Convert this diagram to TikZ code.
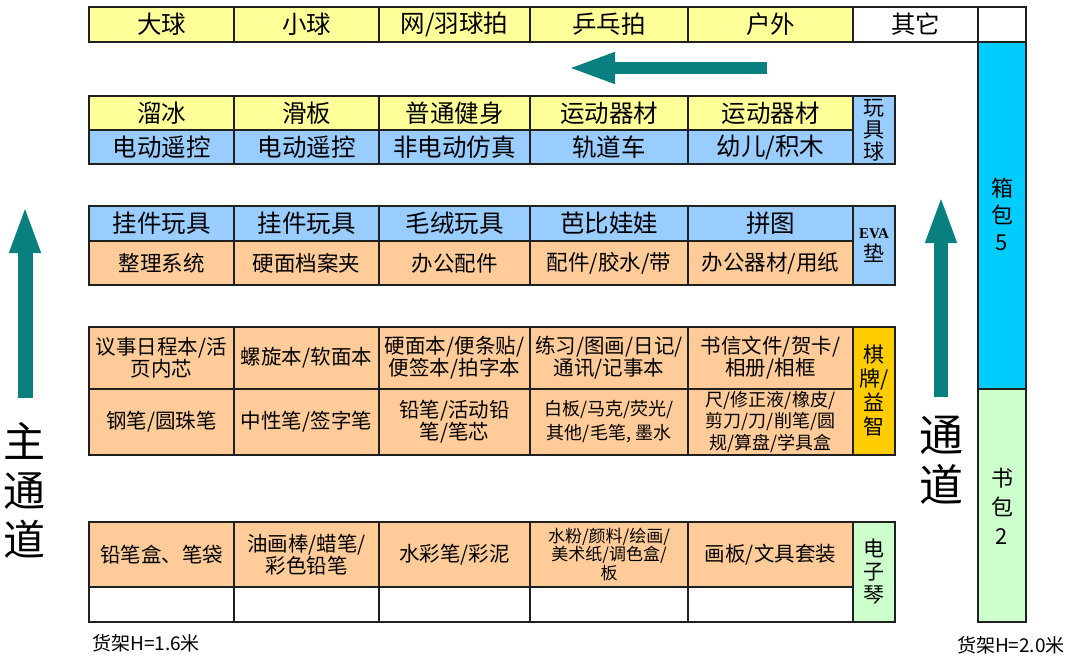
\documentclass[tikz,border=0pt]{standalone}
\usepackage{fontspec}
\setmainfont{Noto Sans CJK SC}
\newfontfamily\evafont{Liberation Serif}
\usetikzlibrary{arrows.meta}
\definecolor{ylw}{HTML}{FFFF99}
\definecolor{blu}{HTML}{99CCFF}
\definecolor{org}{HTML}{FFCC99}
\definecolor{gld}{HTML}{FFCC00}
\definecolor{cyn}{HTML}{00CCFF}
\definecolor{grn}{HTML}{CCFFCC}
\definecolor{flowc}{HTML}{0A7F7F}
\definecolor{edge}{HTML}{202020}

\begin{document}
\begin{tikzpicture}[x=1pt,y=-1pt,
  cellbox/.style={draw=edge,line width=1.6},
  lbla/.style={inner sep=0,font=\fontsize{24.5}{26}\selectfont},
  lblb/.style={inner sep=0,font=\fontsize{21.5}{23}\selectfont},
  lblc/.style={inner sep=0,align=center,font=\fontsize{20.5}{22}\selectfont},
  lbld/.style={inner sep=0,align=center,font=\fontsize{18}{21.5}\selectfont},
  upr/.style={inner sep=0,align=center,font=\fontsize{21}{23}\selectfont},
  walk/.style={flowc,-{Triangle[length=48pt,width=28pt]}},
  aisle/.style={inner sep=0,align=center,font=\fontsize{42}{49}\selectfont},
  note/.style={inner sep=0,font=\fontsize{19}{20}\selectfont}]
\useasboundingbox (0,0) rectangle (1070,661);
% top shelf
\filldraw[cellbox,fill=ylw] (89,7) rectangle (234,42);
\node[lbla] (daqiu) at (161.5,24.5) {大球};
\filldraw[cellbox,fill=ylw] (234,7) rectangle (379,42);
\node[lbla] (xiaoqiu) at (306.5,24.5) {小球};
\filldraw[cellbox,fill=ylw] (379,7) rectangle (530,42);
\node[lbla] (wangpai) at (454.5,24.5) {网/羽球拍};
\filldraw[cellbox,fill=ylw] (530,7) rectangle (688,42);
\node[lbla] (pingpang) at (609,24.5) {乒乓拍};
\filldraw[cellbox,fill=ylw] (688,7) rectangle (853,42);
\node[lbla] (huwai) at (770.5,24.5) {户外};
\filldraw[cellbox,fill=white] (853,7) rectangle (978,42);
\node[lbla] (qita) at (915.5,24.5) {其它};
\filldraw[cellbox,fill=white] (978,7) rectangle (1026,42);
% right shelf
\filldraw[cellbox,fill=cyn] (978,42) rectangle (1026,389);
\node[upr,font=\fontsize{22}{27}\selectfont] (xiangbao) at (1002,214) {箱\\包\\5};
\filldraw[cellbox,fill=grn] (978,389) rectangle (1026,622);
\node[upr,font=\fontsize{22}{29}\selectfont] (shubao) at (1002,506) {书\\包\\2};
% shelf 2
\filldraw[cellbox,fill=ylw] (89,96) rectangle (234,130);
\node[lbla] (liubing) at (161.5,113) {溜冰};
\filldraw[cellbox,fill=ylw] (234,96) rectangle (379,130);
\node[lbla] (huaban) at (306.5,113) {滑板};
\filldraw[cellbox,fill=ylw] (379,96) rectangle (530,130);
\node[lbla] (jianshen) at (454.5,113) {普通健身};
\filldraw[cellbox,fill=ylw] (530,96) rectangle (688,130);
\node[lbla] (qicai1) at (609,113) {运动器材};
\filldraw[cellbox,fill=ylw] (688,96) rectangle (853,130);
\node[lbla] (qicai2) at (770.5,113) {运动器材};
\filldraw[cellbox,fill=blu] (89,130) rectangle (234,164);
\node[lbla] (yaokong1) at (161.5,147) {电动遥控};
\filldraw[cellbox,fill=blu] (234,130) rectangle (379,164);
\node[lbla] (yaokong2) at (306.5,147) {电动遥控};
\filldraw[cellbox,fill=blu] (379,130) rectangle (530,164);
\node[lbla] (fangzhen) at (454.5,147) {非电动仿真};
\filldraw[cellbox,fill=blu] (530,130) rectangle (688,164);
\node[lbla] (guidao) at (609,147) {轨道车};
\filldraw[cellbox,fill=blu] (688,130) rectangle (853,164);
\node[lbla] (jimu) at (770.5,147) {幼儿/积木};
\filldraw[cellbox,fill=blu] (853,96) rectangle (895,164);
\node[upr,font=\fontsize{21}{22}\selectfont] (wanjuqiu) at (874,130) {玩\\具\\球};
% shelf 3
\filldraw[cellbox,fill=blu] (89,206) rectangle (234,241);
\node[lbla] (guajian1) at (161.5,223.5) {挂件玩具};
\filldraw[cellbox,fill=blu] (234,206) rectangle (379,241);
\node[lbla] (guajian2) at (306.5,223.5) {挂件玩具};
\filldraw[cellbox,fill=blu] (379,206) rectangle (530,241);
\node[lbla] (maorong) at (454.5,223.5) {毛绒玩具};
\filldraw[cellbox,fill=blu] (530,206) rectangle (688,241);
\node[lbla] (babi) at (609,223.5) {芭比娃娃};
\filldraw[cellbox,fill=blu] (688,206) rectangle (853,241);
\node[lbla] (pintu) at (770.5,223.5) {拼图};
\filldraw[cellbox,fill=org] (89,241) rectangle (234,285);
\node[lblb] (zhengli) at (161.5,263) {整理系统};
\filldraw[cellbox,fill=org] (234,241) rectangle (379,285);
\node[lblb] (dangan) at (306.5,263) {硬面档案夹};
\filldraw[cellbox,fill=org] (379,241) rectangle (530,285);
\node[lblb] (bangong) at (454.5,263) {办公配件};
\filldraw[cellbox,fill=org] (530,241) rectangle (688,285);
\node[lblb] (jiaoshui) at (609,263) {配件/胶水/带};
\filldraw[cellbox,fill=org] (688,241) rectangle (853,285);
\node[lblb] (yongzhi) at (770.5,263) {办公器材/用纸};
\filldraw[cellbox,fill=blu] (853,206) rectangle (895,285);
\node[upr] (eva) at (874,245.5) {{\evafont\bfseries\fontsize{15}{18}\selectfont EVA}\\垫};
% shelf 4
\filldraw[cellbox,fill=org] (89,327) rectangle (234,389);
\node[lblc] (yishi) at (161.5,358) {议事日程本/活\\页内芯};
\filldraw[cellbox,fill=org] (234,327) rectangle (379,389);
\node[lblc] (luoxuan) at (306.5,358) {螺旋本/软面本};
\filldraw[cellbox,fill=org] (379,327) rectangle (530,389);
\node[lblc] (bianqian) at (454.5,358) {硬面本/便条贴/\\便签本/拍字本};
\filldraw[cellbox,fill=org] (530,327) rectangle (688,389);
\node[lblc] (lianxi) at (609,358) {练习/图画/日记/\\通讯/记事本};
\filldraw[cellbox,fill=org] (688,327) rectangle (853,389);
\node[lblc] (shuxin) at (770.5,358) {书信文件/贺卡/\\相册/相框};
\filldraw[cellbox,fill=org] (89,389) rectangle (234,455);
\node[lblc] (gangbi) at (161.5,422) {钢笔/圆珠笔};
\filldraw[cellbox,fill=org] (234,389) rectangle (379,455);
\node[lblc] (zhongxing) at (306.5,422) {中性笔/签字笔};
\filldraw[cellbox,fill=org] (379,389) rectangle (530,455);
\node[lblc] (qianbi) at (454.5,422) {铅笔/活动铅\\笔/笔芯};
\filldraw[cellbox,fill=org] (530,389) rectangle (688,455);
\node[lbld,font=\fontsize{18}{24}\selectfont] (baiban) at (609,422) {白板/马克/荧光/\\其他/毛笔, 墨水};
\filldraw[cellbox,fill=org] (688,389) rectangle (853,455);
\node[lbld] (chi) at (770.5,422) {尺/修正液/橡皮/\\剪刀/刀/削笔/圆\\规/算盘/学具盒};
\filldraw[cellbox,fill=gld] (853,327) rectangle (895,455);
\node[upr,font=\fontsize{21}{24}\selectfont] (qipai) at (874,391) {棋\\牌/\\益\\智};
% shelf 5
\filldraw[cellbox,fill=org] (89,522) rectangle (234,587);
\node[lblc] (bihe) at (161.5,554.5) {铅笔盒、笔袋};
\filldraw[cellbox,fill=org] (234,522) rectangle (379,587);
\node[lblc] (youhua) at (306.5,554.5) {油画棒/蜡笔/\\彩色铅笔};
\filldraw[cellbox,fill=org] (379,522) rectangle (530,587);
\node[lblc] (shuicai) at (454.5,554.5) {水彩笔/彩泥};
\filldraw[cellbox,fill=org] (530,522) rectangle (688,587);
\node[lbld,font=\fontsize{17}{18.5}\selectfont] (shuifen) at (609,554.5) {水粉/颜料/绘画/\\美术纸/调色盒/\\板};
\filldraw[cellbox,fill=org] (688,522) rectangle (853,587);
\node[lblc] (huaban2) at (770.5,554.5) {画板/文具套装};
\filldraw[cellbox,fill=white] (89,587) rectangle (234,622);
\filldraw[cellbox,fill=white] (234,587) rectangle (379,622);
\filldraw[cellbox,fill=white] (379,587) rectangle (530,622);
\filldraw[cellbox,fill=white] (530,587) rectangle (688,622);
\filldraw[cellbox,fill=white] (688,587) rectangle (853,622);
\filldraw[cellbox,fill=grn] (853,522) rectangle (895,622);
\node[upr] (dianziqin) at (874,572) {电\\子\\琴};
% aisles
\coordinate (topend) at (767,68);
\coordinate (toptip) at (567,68);
\draw[walk,line width=12] (topend) -- (toptip);
\coordinate (leftend) at (25,398);
\coordinate (lefttip) at (25,205);
\draw[walk,line width=15] (leftend) -- (lefttip);
\coordinate (rightend) at (941,397);
\coordinate (righttip) at (941,195);
\draw[walk,line width=14] (rightend) -- (righttip);
\node[aisle] (zhutongdao) at (25,490) {主\\通\\道};
\node[aisle,font=\fontsize{44}{50}\selectfont] (tongdao) at (941,460) {通\\道};
\node[note,anchor=west] (h16) at (92,643) {货架H=1.6米};
\node[note,anchor=east] (h20) at (1065,645) {货架H=2.0米};
\end{tikzpicture}
\end{document}
